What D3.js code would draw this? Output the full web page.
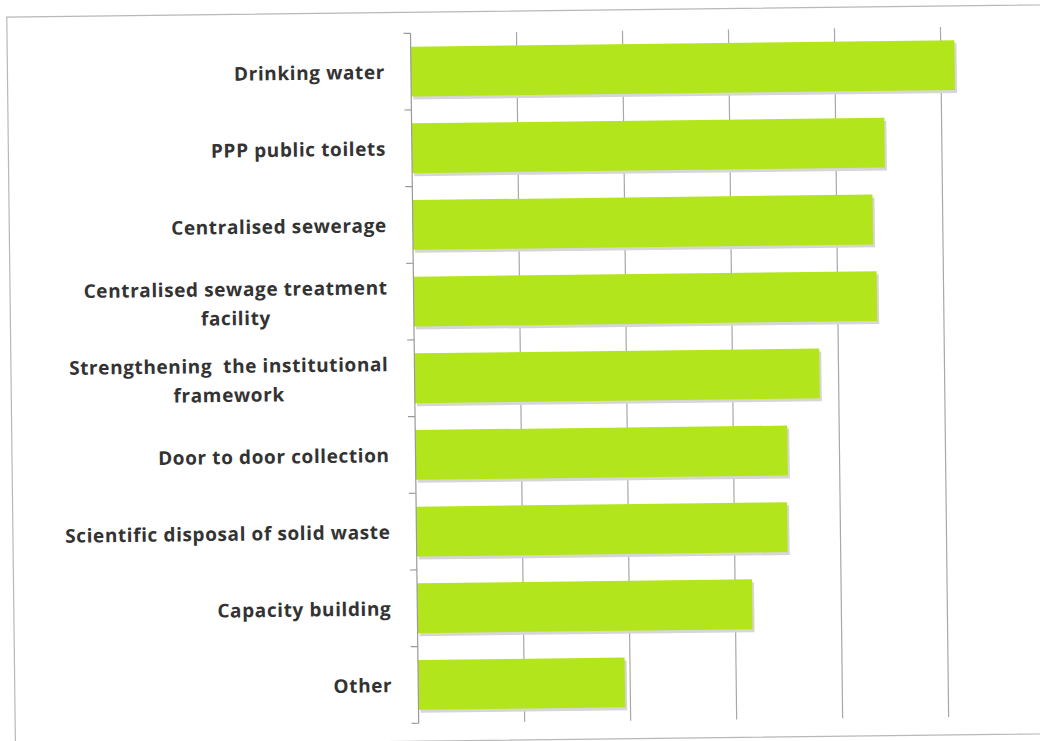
<!DOCTYPE html>
<html>
<head>
<meta charset="utf-8">
<script src="https://cdn.jsdelivr.net/npm/d3@7"></script>
<style>
    body { margin: 0; background: #fff; }
    svg { display: block; }
    .label { font-family: "Open Sans", Lato, sans-serif; font-weight: 700; font-size: 19px; letter-spacing: 0.6px; fill: #333; white-space: pre; }
</style>
</head>
<body>
<div id="chart"></div>
<script>
// categories, top to bottom (labels split where the original wraps)
var categories = [
    ["Drinking water"],
    ["PPP public toilets"],
    ["Centralised sewerage"],
    ["Centralised sewage treatment", "facility"],
    ["Strengthening  the institutional", "framework"],
    ["Door to door collection"],
    ["Scientific disposal of solid waste"],
    ["Capacity building"],
    ["Other"]
];
// bar values (no axis labels in the original)
var values = [5.13, 4.46, 4.34, 4.37, 3.82, 3.51, 3.50, 3.16, 1.95];
var gridTicks = [1, 2, 3, 4, 5, 6];

var W = 1040, H = 741;
var margin = {top: 32, right: 0, bottom: 19, left: 414.5};
var plotW = 636, plotH = H - margin.top - margin.bottom;

var svg = d3.select("#chart")
    .append("svg")
        .attr("width", W)
        .attr("height", H);

// the scan is slightly tilted
var page = svg.append("g")
    .attr("transform", "rotate(-0.68, 520, 370)");

// chart border
page.append("rect")
    .attr("x", 11).attr("y", 11)
    .attr("width", 1200).attr("height", 729)
    .attr("fill", "none")
    .attr("stroke", "#b8b8b8")
    .attr("stroke-width", 1.2);

var g = page.append("g")
    .attr("transform", "translate(" + margin.left + "," + margin.top + ")");

var x = d3.scaleLinear().domain([0, 6]).range([0, plotW]);
var y = d3.scaleBand()
    .domain(d3.range(categories.length))
    .range([0, plotH])
    .paddingInner(0.35)
    .paddingOuter(0.175);

// vertical gridlines
g.selectAll(".grid")
    .data(gridTicks)
    .enter().append("line")
        .attr("x1", function(d) { return x(d); })
        .attr("x2", function(d) { return x(d); })
        .attr("y1", 0)
        .attr("y2", plotH)
        .attr("stroke", "#a8a8a8")
        .attr("stroke-width", 1.2);

// bar shadows
g.selectAll(".shadow")
    .data(values)
    .enter().append("rect")
        .attr("x", x(0) + 2)
        .attr("y", function(d, i) { return y(i) + 3; })
        .attr("width", function(d) { return x(d) - x(0); })
        .attr("height", y.bandwidth())
        .attr("fill", "#d6d6d6");

// bars
g.selectAll(".bar")
    .data(values)
    .enter().append("rect")
        .attr("x", x(0))
        .attr("y", function(d, i) { return y(i); })
        .attr("width", function(d) { return x(d) - x(0); })
        .attr("height", y.bandwidth())
        .attr("fill", "#b3e51c");

// left axis with ticks between categories
g.append("line")
    .attr("x1", 0).attr("x2", 0)
    .attr("y1", 0).attr("y2", plotH)
    .attr("stroke", "#9a9a9a")
    .attr("stroke-width", 1.2);
var step = y.step();
g.selectAll(".tick")
    .data(d3.range(categories.length + 1))
    .enter().append("line")
        .attr("x1", -7).attr("x2", 0)
        .attr("y1", function(d) { return y(0) - y.paddingOuter() * step + d * step; })
        .attr("y2", function(d) { return y(0) - y.paddingOuter() * step + d * step; })
        .attr("stroke", "#9a9a9a")
        .attr("stroke-width", 1.2);

// category labels
var lineH = 29;
categories.forEach(function(lines, i) {
    var cy = y(i) + y.bandwidth() / 2;
    var t = g.append("text")
        .attr("class", "label")
        .attr("text-anchor", "end")
        .attr("dominant-baseline", "central");
    lines.forEach(function(s, j) {
        t.append("tspan")
            .attr("x", -26)
            .attr("y", cy + (j - (lines.length - 1) / 2) * lineH)
            .text(s);
    });
    // centre wrapped lines against each other, block right-aligned
    if (lines.length > 1) {
        var spans = t.selectAll("tspan").nodes();
        var widths = spans.map(function(n) { return n.getComputedTextLength(); });
        var maxW = d3.max(widths);
        spans.forEach(function(n, j) {
            d3.select(n).attr("x", -26 - (maxW - widths[j]) / 2);
        });
    }
});
</script>
</body>
</html>
